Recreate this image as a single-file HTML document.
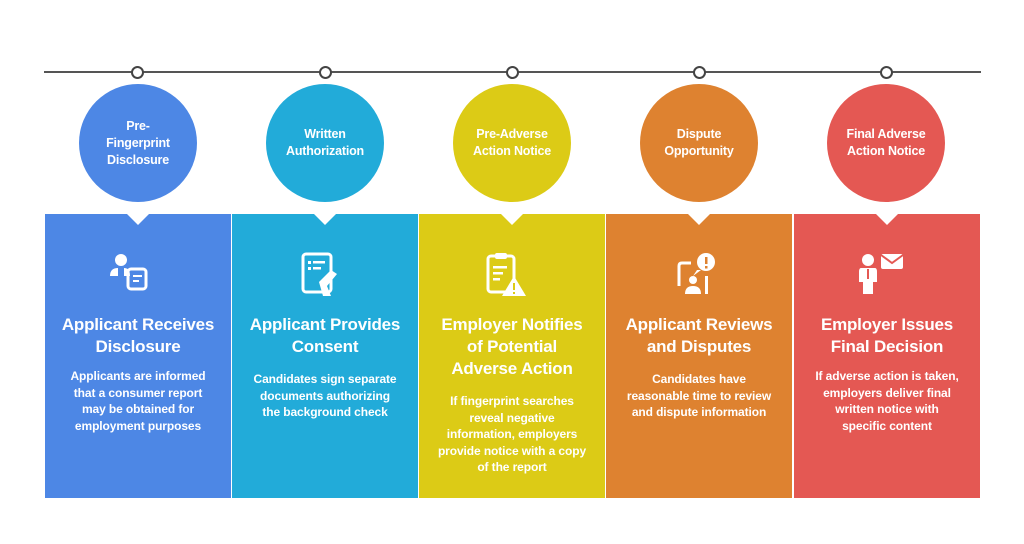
<!DOCTYPE html>
<html><head><meta charset="utf-8"><style>
body{margin:0;width:1024px;height:544px;background:#fff;position:relative;font-family:"Liberation Sans",Arial,sans-serif;overflow:hidden}
.col{position:absolute;top:214px;height:284px;width:186px;color:#fff;text-align:center}
.notch{position:absolute;top:-1px;left:81px;width:0;height:0;border-left:12px solid transparent;border-right:12px solid transparent;border-top:12px solid #fff}
.t{position:absolute;top:100px;left:4px;right:4px;font-size:17px;font-weight:bold;line-height:22px;letter-spacing:-0.2px}
.d{position:absolute;left:18px;right:18px;font-size:12px;font-weight:bold;line-height:16.5px;letter-spacing:-0.1px}
.c{position:absolute;top:84px;width:118px;height:118px;border-radius:50%;color:#fff;font-size:12.5px;font-weight:bold;line-height:17px;display:flex;align-items:center;justify-content:center;text-align:center;letter-spacing:-0.2px}
.dot{position:absolute;top:66px;width:9px;height:9px;border:2px solid #444;border-radius:50%;background:#fff}
svg.i{position:absolute;top:38px;left:63px}
</style></head><body>
<div style="position:absolute;left:44px;top:71px;width:937px;height:2px;background:#555"></div>
<div class="dot" style="left:131px"></div><div class="dot" style="left:319px"></div><div class="dot" style="left:506px"></div><div class="dot" style="left:693px"></div><div class="dot" style="left:880px"></div>

<div class="c" style="left:79px;background:#4d87e5">Pre-<br>Fingerprint<br>Disclosure</div>
<div class="c" style="left:266px;background:#22abd9">Written<br>Authorization</div>
<div class="c" style="left:453px;background:#dccb16">Pre-Adverse<br>Action Notice</div>
<div class="c" style="left:640px;background:#de8230">Dispute<br>Opportunity</div>
<div class="c" style="left:827px;background:#e45853">Final Adverse<br>Action Notice</div>

<div class="col" style="left:45px;background:#4d87e5"><div class="notch"></div>
<svg class="i" width="60" height="50" viewBox="0 0 60 50"><circle cx="13" cy="8" r="6" fill="#fff"/><path d="M2 24 Q2 16 10 16 L10 24Z M16 16 Q22 16 22 24 L16 24Z" fill="#fff"/><rect x="20" y="17" width="18" height="20" rx="3" fill="none" stroke="#fff" stroke-width="3"/><rect x="25" y="23" width="9" height="2" fill="#fff"/><rect x="25" y="28" width="6" height="2" fill="#fff"/></svg>
<div class="t">Applicant Receives<br>Disclosure</div>
<div class="d" style="top:154px">Applicants are informed that a consumer report may be obtained for employment purposes</div></div>

<div class="col" style="left:232px;background:#22abd9"><div class="notch"></div>
<svg class="i" width="60" height="50" viewBox="0 0 60 50"><rect x="8" y="2" width="28" height="38" rx="3" fill="none" stroke="#fff" stroke-width="3"/><rect x="13" y="9" width="3" height="3" fill="#fff"/><rect x="18" y="9" width="12" height="2.5" fill="#fff"/><rect x="13" y="15" width="3" height="3" fill="#fff"/><rect x="18" y="15" width="8" height="2.5" fill="#fff"/><path d="M24 30 L36 18 L42 22 L32 34 L36 44 L28 44Z" fill="#fff"/></svg>
<div class="t">Applicant Provides<br>Consent</div>
<div class="d" style="top:157px">Candidates sign separate documents authorizing the background check</div></div>

<div class="col" style="left:419px;background:#dccb16"><div class="notch"></div>
<svg class="i" width="60" height="50" viewBox="0 0 60 50"><rect x="6" y="4" width="26" height="36" rx="3" fill="none" stroke="#fff" stroke-width="3"/><rect x="13" y="1" width="12" height="6" rx="2" fill="#fff"/><rect x="11" y="14" width="14" height="2.5" fill="#fff"/><rect x="11" y="20" width="10" height="2.5" fill="#fff"/><rect x="11" y="26" width="7" height="2.5" fill="#fff"/><path d="M32 24 L44 44 L20 44Z" fill="#fff"/><rect x="31" y="31" width="2" height="7" fill="#dccb16"/><rect x="31" y="40" width="2" height="2" fill="#dccb16"/></svg>
<div class="t">Employer Notifies<br>of Potential<br>Adverse Action</div>
<div class="d" style="top:179px">If fingerprint searches reveal negative information, employers provide notice with a copy of the report</div></div>

<div class="col" style="left:606px;background:#de8230"><div class="notch"></div>
<svg class="i" width="60" height="50" viewBox="0 0 60 50"><path d="M10 34 L10 14 Q10 11 13 11 L22 11" fill="none" stroke="#fff" stroke-width="3"/><circle cx="37" cy="10" r="9" fill="#fff"/><path d="M28 18 L24 24 L32 18Z" fill="#fff"/><rect x="36" y="5" width="2.5" height="7" fill="#de8230"/><rect x="36" y="14" width="2.5" height="2.5" fill="#de8230"/><circle cx="24" cy="28" r="4" fill="#fff"/><path d="M16 42 Q16 34 24 34 Q32 34 32 42Z" fill="#fff"/><rect x="36" y="24" width="3" height="18" fill="#fff"/></svg>
<div class="t">Applicant Reviews<br>and Disputes</div>
<div class="d" style="top:157px">Candidates have reasonable time to review and dispute information</div></div>

<div class="col" style="left:794px;background:#e45853"><div class="notch"></div>
<svg class="i" width="60" height="50" viewBox="0 0 60 50"><circle cx="11" cy="8" r="6" fill="#fff"/><path d="M4 16 L18 16 Q20 16 20 20 L20 30 L16 30 L16 42 L6 42 L6 30 L2 30 L2 20 Q2 16 4 16Z" fill="#fff"/><rect x="10" y="17" width="2" height="10" fill="#e45853"/><rect x="24" y="2" width="22" height="15" rx="2" fill="#fff"/><path d="M24 3 L35 11 L46 3" fill="none" stroke="#e45853" stroke-width="2"/></svg>
<div class="t">Employer Issues<br>Final Decision</div>
<div class="d" style="top:154px">If adverse action is taken, employers deliver final written notice with specific content</div></div>
</body></html>
